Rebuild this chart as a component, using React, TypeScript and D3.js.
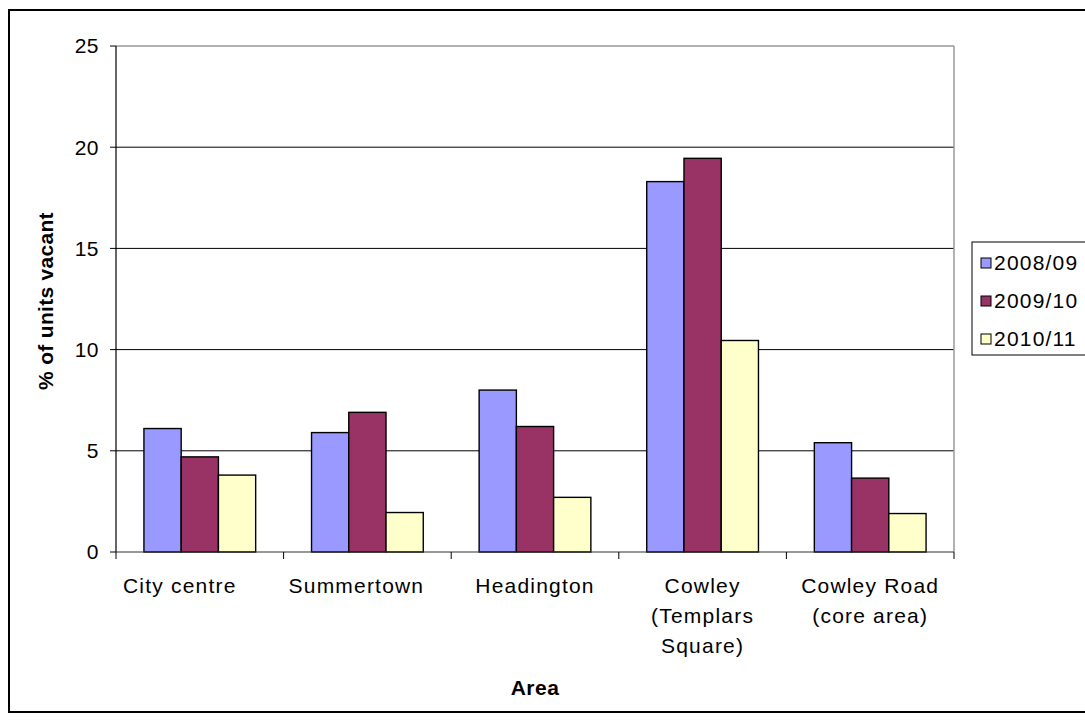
import React from "react";
import * as d3 from "d3";

const WIDTH = 1085;
const HEIGHT = 722;
const MARGIN = { top: 46, right: 131, bottom: 170, left: 116 };

const categories = ["City centre", "Summertown", "Headington", "Cowley (Templars Square)", "Cowley Road (core area)"];
const categoryLines = [["City centre"], ["Summertown"], ["Headington"], ["Cowley", "(Templars", "Square)"], ["Cowley Road", "(core area)"]];
const seriesNames = ["2008/09", "2009/10", "2010/11"];
const values2008 = [6.1, 5.9, 8.0, 18.3, 5.4];
const values2009 = [4.7, 6.9, 6.2, 19.45, 3.65];
const values2010 = [3.8, 1.95, 2.7, 10.45, 1.9];
const seriesColors = ["#9999FF", "#993366", "#FFFFCC"];
const yTicks = [0, 5, 10, 15, 20, 25];

// Excel nudges the first two category labels a bit to the left
const LABEL_DX = [-20, -11, 0, 0, 0];
const FONT = "'Liberation Sans', Arial, sans-serif";

export default function App() {
  const boundsWidth = WIDTH - MARGIN.left - MARGIN.right;
  const boundsHeight = HEIGHT - MARGIN.top - MARGIN.bottom;
  const series = [values2008, values2009, values2010];

  // Y axis
  const yScale = d3.scaleLinear().domain([0, 25]).range([boundsHeight, 0]);

  // X axis: groups, Excel gap width 150%
  const xScale = d3.scaleBand().domain(categories).range([0, boundsWidth]);
  const barWidth = xScale.bandwidth() / 4.5;
  const inner = d3
    .scaleBand()
    .domain(seriesNames)
    .range([barWidth * 0.75, barWidth * 3.75]);

  return (
    <svg
      width={WIDTH}
      height={HEIGHT}
      style={{ position: "absolute", left: 0, top: 0, display: "block" }}
      fontFamily={FONT}
    >
      <rect x={0} y={0} width={WIDTH} height={HEIGHT} fill="#fff" />
      <rect x={9} y={10} width={1100} height={702} fill="none" stroke="#000" strokeWidth={2} />

      <g transform={`translate(${MARGIN.left},${MARGIN.top})`}>
        {/* gridlines */}
        {yTicks.filter((t) => t > 0 && t < 25).map((t) => (
          <line key={t} x1={0} x2={boundsWidth} y1={yScale(t)} y2={yScale(t)} stroke="#000" strokeWidth={1} />
        ))}
        <line x1={0} x2={boundsWidth} y1={yScale(25)} y2={yScale(25)} stroke="#999" strokeWidth={1.5} />
        <line x1={boundsWidth} x2={boundsWidth} y1={0} y2={boundsHeight} stroke="#999" strokeWidth={1.5} />

        {/* bars */}
        {series.map((vals, si) =>
          vals.map((v, ci) => (
            <rect
              key={`${si}-${ci}`}
              x={(xScale(categories[ci]) ?? 0) + (inner(seriesNames[si]) ?? 0)}
              y={yScale(v)}
              width={inner.bandwidth()}
              height={boundsHeight - yScale(v)}
              fill={seriesColors[si]}
              stroke="#000"
              strokeWidth={1.4}
            />
          ))
        )}

        {/* axes */}
        <line x1={0} x2={0} y1={0} y2={boundsHeight} stroke="#000" strokeWidth={1.2} />
        <line x1={0} x2={boundsWidth} y1={boundsHeight} y2={boundsHeight} stroke="#333" strokeWidth={1.2} />
        {yTicks.map((t) => (
          <g key={t}>
            <line x1={-6} x2={0} y1={yScale(t)} y2={yScale(t)} stroke="#000" />
            <text x={-17} y={yScale(t)} dy="0.35em" textAnchor="end" fontSize={21} letterSpacing={0.5}>
              {t}
            </text>
          </g>
        ))}
        {categories.map((c) => (
          <line key={c} x1={xScale(c)} x2={xScale(c)} y1={boundsHeight} y2={boundsHeight + 7} stroke="#000" />
        ))}
        <line x1={boundsWidth} x2={boundsWidth} y1={boundsHeight} y2={boundsHeight + 7} stroke="#000" />
        {categoryLines.map((lines, ci) => {
          const cx = (xScale(categories[ci]) ?? 0) + xScale.bandwidth() / 2 + LABEL_DX[ci];
          return (
            <text key={ci} x={cx} y={boundsHeight + 41} textAnchor="middle" fontSize={21} letterSpacing={1.2}>
              {lines.map((l, li) => (
                <tspan key={li} x={cx} dy={li === 0 ? 0 : 30}>
                  {l}
                </tspan>
              ))}
            </text>
          );
        })}
      </g>

      {/* axis titles */}
      <text x={535} y={695} textAnchor="middle" fontSize={21} fontWeight="bold" letterSpacing={0.5}>
        Area
      </text>
      <text
        transform={`translate(53,${MARGIN.top + boundsHeight / 2 + 2}) rotate(-90)`}
        textAnchor="middle"
        fontSize={21}
        fontWeight="bold"
        letterSpacing={0.3}
      >
        % of units vacant
      </text>

      {/* legend */}
      <rect x={972} y={242} width={130} height={113} fill="#fff" stroke="#000" strokeWidth={1} />
      {seriesNames.map((s, i) => (
        <g key={s} transform={`translate(981,${263 + i * 38})`}>
          <rect x={0} y={-5} width={10} height={10} fill={seriesColors[i]} stroke="#000" strokeWidth={1} />
          <text x={13} y={0} dy="0.35em" fontSize={21} letterSpacing={1.2}>
            {s}
          </text>
        </g>
      ))}
    </svg>
  );
}
